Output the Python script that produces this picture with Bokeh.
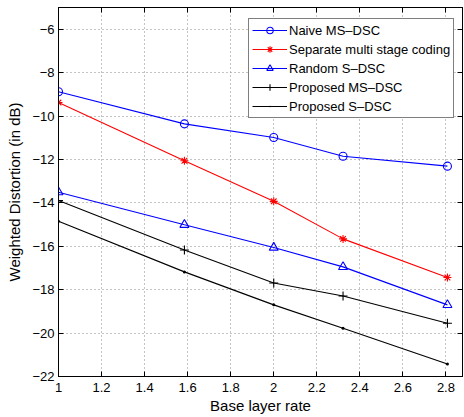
from bokeh.plotting import figure
from bokeh.models import FixedTicker, CustomJSTickFormatter, LinearAxis, Legend, LegendItem, Range1d
from bokeh.embed import file_html
from bokeh.resources import INLINE

x = [1.0, 1.585, 2.0, 2.322, 2.807]
naive_ms = [-8.88, -10.36, -10.99, -11.85, -12.31]
separate = [-9.38, -12.06, -13.93, -15.66, -17.44]
random_s = [-13.51, -15.01, -16.06, -16.95, -18.70]
prop_ms = [-13.89, -16.17, -17.69, -18.29, -19.55]
prop_s = [-14.85, -17.18, -18.70, -19.78, -21.42]

x_ticks = [1, 1.2, 1.4, 1.6, 1.8, 2, 2.2, 2.4, 2.6, 2.8]
y_ticks = [-22, -20, -18, -16, -14, -12, -10, -8, -6]

FONT = "Liberation Sans"

p = figure(width=464, height=417, output_backend="svg", toolbar_location=None,
           x_range=Range1d(1, 2.877), y_range=Range1d(-22, -5),
           min_border_left=58, min_border_right=2, min_border_top=7, min_border_bottom=41)
p.outline_line_color = "black"
p.outline_line_width = 1
p.background_fill_color = "white"
p.border_fill_color = "white"

fmt = CustomJSTickFormatter(code="return tick.toString().replace('-', '\u2212');")
for ax, ticks in ((p.xaxis[0], x_ticks), (p.yaxis[0], y_ticks)):
    ax.ticker = FixedTicker(ticks=ticks)
    ax.formatter = fmt
    ax.major_tick_in = 5
    ax.major_tick_out = 0
    ax.minor_tick_line_color = None
    ax.major_label_text_font = FONT
    ax.major_label_text_font_size = "13px"
    ax.major_label_text_color = "black"
    ax.axis_line_color = "black"
    ax.axis_label_text_font = FONT
    ax.axis_label_text_font_size = "15px"
    ax.axis_label_text_font_style = "normal"
    ax.axis_label_text_color = "black"
p.xaxis[0].axis_label = "Base layer rate"
p.yaxis[0].axis_label = "Weighted Distortion (in dB)"
p.xaxis[0].major_label_standoff = 6
p.xaxis[0].axis_label_standoff = 2
p.yaxis[0].major_label_standoff = 4
p.yaxis[0].axis_label_standoff = 6

# top and right tick-only axes (MATLAB box ticks)
blank = CustomJSTickFormatter(code="return '';")
top = LinearAxis(ticker=FixedTicker(ticks=x_ticks), formatter=blank,
                 major_tick_in=5, major_tick_out=0, minor_tick_line_color=None,
                 axis_line_color="black", major_label_standoff=0)
right = LinearAxis(ticker=FixedTicker(ticks=y_ticks), formatter=blank,
                   major_tick_in=5, major_tick_out=0, minor_tick_line_color=None,
                   axis_line_color="black", major_label_standoff=0)
p.add_layout(top, "above")
p.add_layout(right, "right")

p.xgrid[0].ticker = FixedTicker(ticks=x_ticks)
p.ygrid[0].ticker = FixedTicker(ticks=y_ticks)
for g in (p.xgrid[0], p.ygrid[0]):
    g.grid_line_color = "#888888"
    g.grid_line_dash = "1 3"
    g.grid_line_width = 1

items = []
def series(ys, color, marker, size, label):
    r1 = p.line(x, ys, line_color=color, line_width=1.1)
    r2 = p.scatter(x, ys, marker=marker, size=size, line_color=color,
                   fill_color=None if marker != "dot" else color, line_width=1.1)
    items.append(LegendItem(label=label, renderers=[r1, r2]))

series(naive_ms, "#0000ff", "circle", 8, "Naive MS\u2013DSC")
series(separate, "#ff0000", "asterisk", 8, "Separate multi stage coding")
series(random_s, "#0000ff", "triangle", 9, "Random S\u2013DSC")
series(prop_ms, "#000000", "cross", 9, "Proposed MS\u2013DSC")
series(prop_s, "#000000", "dot", 12, "Proposed S\u2013DSC")

leg = Legend(items=items, location=(190, 258))
leg.label_text_font = FONT
leg.label_text_font_size = "13px"
leg.label_text_color = "black"
leg.border_line_color = "black"
leg.border_line_width = 1
leg.glyph_width = 35
leg.glyph_height = 16
leg.label_height = 16
leg.spacing = 3
leg.padding = 3
leg.margin = 0
leg.label_standoff = 2
leg.background_fill_color = "white"
leg.background_fill_alpha = 1
p.add_layout(leg)

open("out.html", "w").write(file_html(p, INLINE))
